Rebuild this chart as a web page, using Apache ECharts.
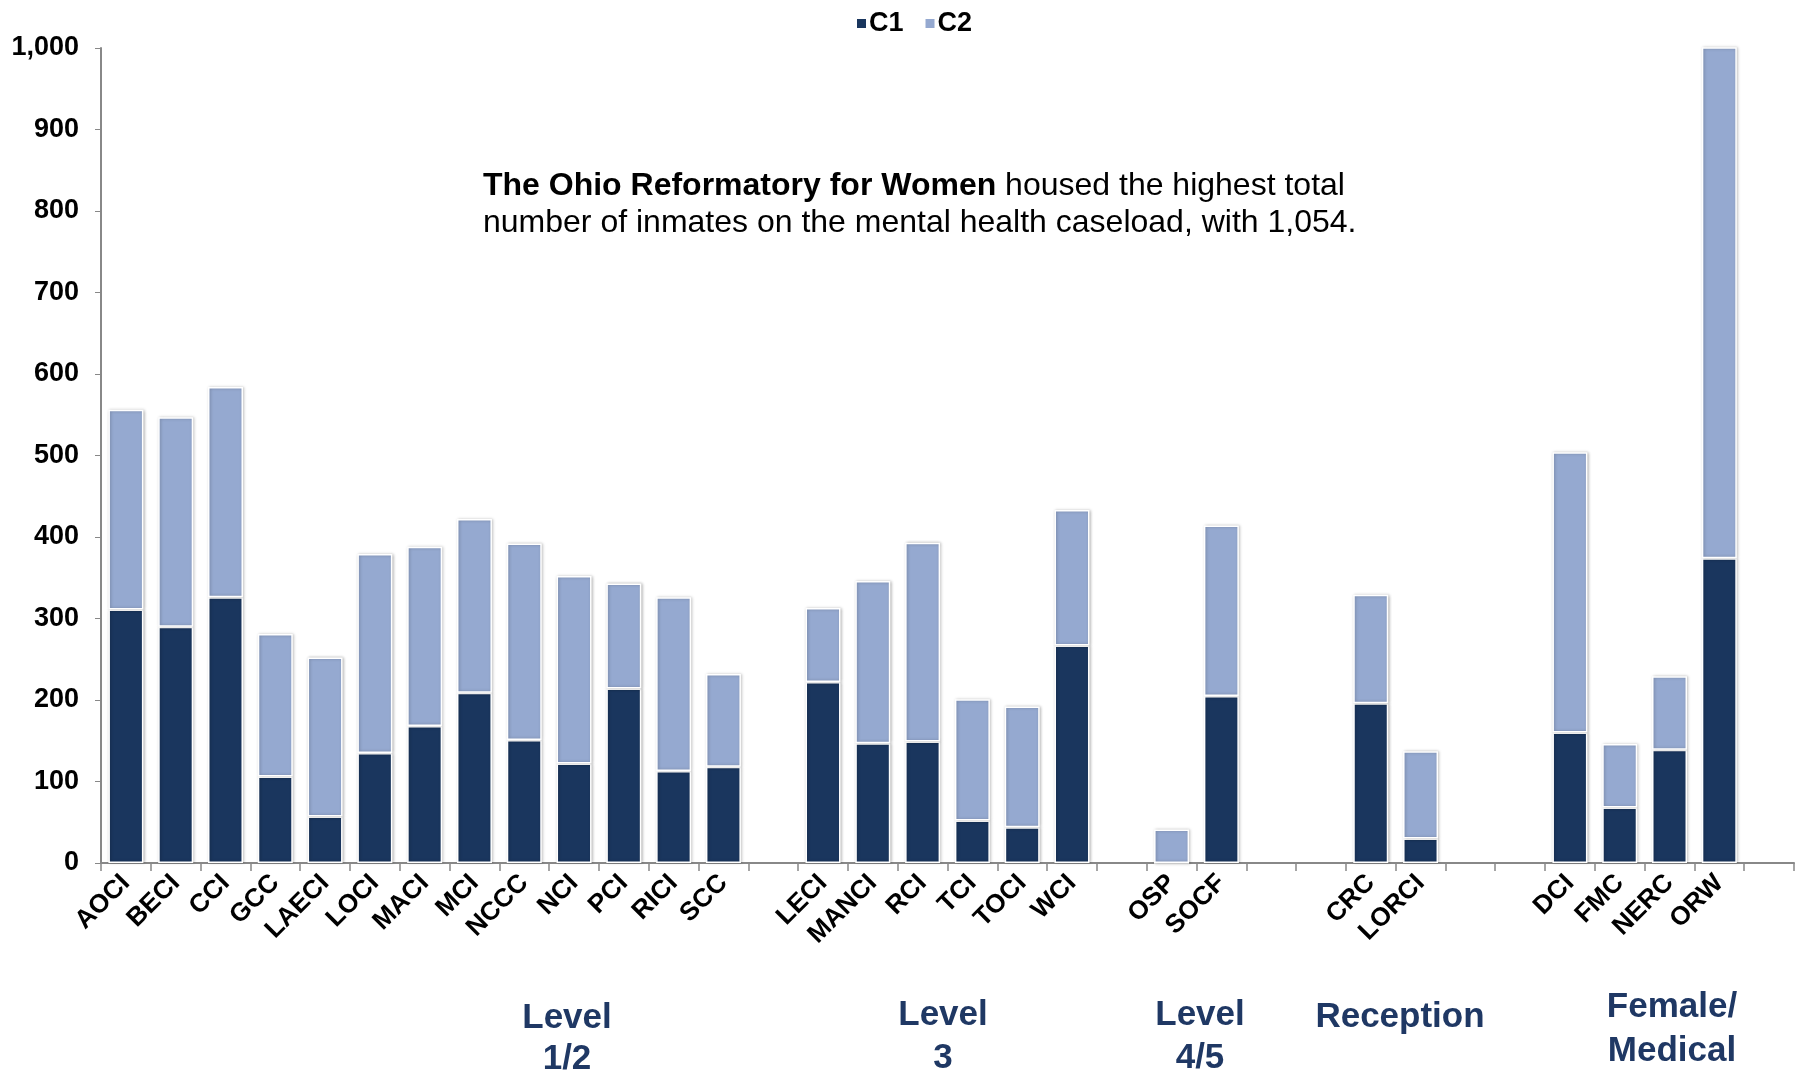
<!DOCTYPE html>
<html>
<head>
<meta charset="utf-8">
<title>Mental health caseload by institution</title>
<script src="https://cdn.jsdelivr.net/npm/echarts@6/dist/echarts.min.js"></script>
<style>
  html, body { margin: 0; padding: 0; background: #fff; }
  #main { width: 1803px; height: 1078px; }
</style>
</head>
<body>
<div id="main"></div>
<script>
// institutions, '' = gap between security levels
var categories = ['AOCI', 'BECI', 'CCI', 'GCC', 'LAECI', 'LOCI', 'MACI', 'MCI', 'NCCC', 'NCI', 'PCI', 'RICI', 'SCC', '',
    'LECI', 'MANCI', 'RCI', 'TCI', 'TOCI', 'WCI', '',
    'OSP', 'SOCF', '', '',
    'CRC', 'LORCI', '', '',
    'DCI', 'FMC', 'NERC', 'ORW', ''];

var c1 = [311, 290, 326, 106, 57, 135, 168, 209, 151, 122, 214, 113, 118, null,
    222, 147, 149, 52, 44, 267, null,
    0, 205, null, null,
    196, 30, null, null,
    160, 68, 139, 374, null];

var c2 = [245, 257, 258, 175, 195, 244, 220, 213, 241, 230, 129, 213, 114, null,
    91, 199, 244, 149, 148, 166, null,
    41, 209, null, null,
    133, 107, null, null,
    344, 78, 90, 680, null];

var seriesNames = ['C1', 'C2'];
var seriesColors = ['#1A365E', '#95A9D0'];

// group captions under the axis
var groupLabels = ['Level\n1/2', 'Level\n3', 'Level\n4/5', 'Reception', 'Female/\nMedical'];
var groupX = [567, 943, 1200, 1400, 1672];
var groupY = [998, 994, 994, 997, 985];
var groupLineH = [41, 43, 43, 41, 44];

var yTicks = { min: 0, max: 1000, interval: 100 };

var font = 'Arial, "Liberation Sans", sans-serif';

var myChart = echarts.init(document.getElementById('main'));

function addCommas(v) {
    return String(v).replace(/\B(?=(\d{3})+(?!\d))/g, ',');
}

var barStyle = function (i) {
    return {
        color: seriesColors[i],
        borderColor: '#ffffff',
        borderWidth: 1.5,
        shadowColor: 'rgba(0,0,0,0.25)',
        shadowBlur: 3,
        shadowOffsetX: 1,
        shadowOffsetY: 0
    };
};

var graphics = [];
for (var g = 0; g < groupLabels.length; g++) {
    graphics.push({
        type: 'text',
        x: groupX[g],
        y: groupY[g],
        style: {
            text: groupLabels[g],
            align: 'center',
            verticalAlign: 'top',
            fill: '#1F3864',
            font: 'bold 35px ' + font,
            lineHeight: groupLineH[g]
        }
    });
}
// annotation
graphics.push({
    type: 'text',
    x: 483,
    y: 168,
    style: {
        text: '{b|The Ohio Reformatory for Women} housed the highest total\nnumber of inmates on the mental health caseload, with 1,054.',
        fill: '#000',
        font: '32px ' + font,
        lineHeight: 37,
        verticalAlign: 'top',
        rich: {
            b: { fontWeight: 'bold', fontSize: 32, fontFamily: font, fill: '#000', lineHeight: 37 }
        }
    }
});

var option = {
    animation: false,
    backgroundColor: '#ffffff',
    textStyle: { fontFamily: font },
    legend: {
        data: seriesNames,
        top: 5,
        left: 850,
        itemWidth: 11,
        itemHeight: 11,
        itemGap: 20,
        icon: 'rect',
        textStyle: { fontSize: 27, fontWeight: 'bold', color: '#000', padding: [0, 0, 0, -3] }
    },
    grid: {
        left: 101,
        right: 9,
        top: 48,
        bottom: 215,
        containLabel: false
    },
    xAxis: {
        type: 'category',
        data: categories,
        axisLine: { lineStyle: { color: '#888888', width: 2 } },
        axisTick: { show: true, length: 8, lineStyle: { color: '#888888', width: 1.5 } },
        axisLabel: {
            rotate: 45,
            interval: 0,
            margin: 16,
            fontSize: 26,
            fontWeight: 'bold',
            color: '#000'
        }
    },
    yAxis: {
        type: 'value',
        min: yTicks.min,
        max: yTicks.max,
        interval: yTicks.interval,
        splitLine: { show: false },
        axisLine: { show: true, lineStyle: { color: '#888888', width: 2 } },
        axisTick: { show: true, length: 6, lineStyle: { color: '#888888' } },
        axisLabel: {
            fontSize: 27,
            fontWeight: 'bold',
            color: '#000',
            margin: 22,
            formatter: addCommas
        }
    },
    graphic: graphics,
    series: [{
        name: seriesNames[0],
        type: 'bar',
        stack: 'total',
        barWidth: 35,
        itemStyle: barStyle(0),
        data: c1
    }, {
        name: seriesNames[1],
        type: 'bar',
        stack: 'total',
        barWidth: 35,
        itemStyle: barStyle(1),
        data: c2
    }]
};

myChart.setOption(option);
</script>
</body>
</html>
